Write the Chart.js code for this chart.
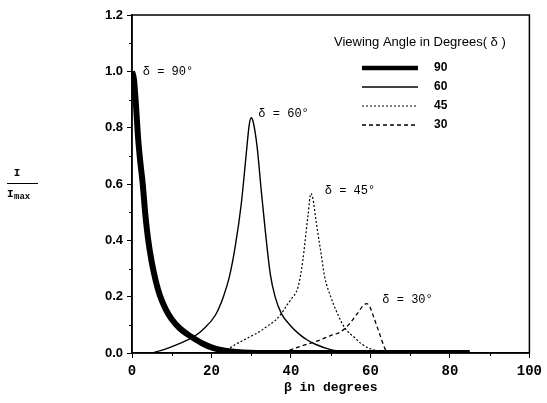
<!DOCTYPE html>
<html>
<head>
<meta charset="utf-8">
<script src="https://cdn.jsdelivr.net/npm/chart.js@4/dist/chart.umd.min.js"></script>
<style>
  html, body { margin: 0; padding: 0; background: #fff; }
  #wrap { width: 547px; height: 403px; }
</style>
</head>
<body>
<div id="wrap"><canvas id="myChart"></canvas></div>
<script>
// intensity curves, [beta, I/Imax]
const angles = ["90", "60", "45", "30"];

const curve90 = [
  [0, 1.0], [0.5, 0.97], [1, 0.88], [1.5, 0.77], [2, 0.69], [2.7, 0.6], [3.3, 0.5],
  [4, 0.41], [5, 0.32], [6, 0.255], [7, 0.205], [8.5, 0.155], [10, 0.12], [12, 0.088],
  [14, 0.066], [16, 0.048], [18, 0.032], [20, 0.02], [22, 0.012], [25, 0.005],
  [28, 0.002], [35, 0], [85, 0]
];

const curve60 = [
  [5, 0], [8, 0.012], [11, 0.028], [14, 0.047], [16, 0.062], [18, 0.085], [21, 0.135],
  [23, 0.2], [24.5, 0.27], [26, 0.38], [27.5, 0.53], [28.7, 0.7], [29.5, 0.81],
  [30, 0.835], [30.5, 0.82], [31.5, 0.73], [32.5, 0.58], [33.5, 0.44], [34.8, 0.28],
  [36, 0.2], [37.6, 0.14], [40, 0.095], [42, 0.068], [44, 0.047], [46, 0.032],
  [50, 0.012], [55, 0.003], [60, 0]
];

const curve45 = [
  [22, 0], [24, 0.012], [26, 0.03], [28, 0.045], [30, 0.06], [32, 0.075], [34, 0.095],
  [36, 0.115], [37.6, 0.14], [39, 0.17], [40, 0.19], [41.8, 0.235], [43, 0.33],
  [43.5, 0.39], [44.3, 0.49], [45, 0.566], [45.5, 0.55], [46.3, 0.47], [47.5, 0.36],
  [48.5, 0.27], [50, 0.2], [51.7, 0.14], [53.5, 0.09], [56, 0.055], [58, 0.03],
  [60, 0.015], [63, 0.004], [66, 0]
];

const curve30 = [
  [38, 0], [40, 0.012], [42, 0.022], [45, 0.035], [48, 0.05], [50, 0.062], [52.5, 0.075],
  [54.5, 0.1], [56.7, 0.14], [58.3, 0.17], [59, 0.175], [59.7, 0.168], [61, 0.12],
  [62.5, 0.06], [63.5, 0.02], [64.2, 0]
];

// "δ = n°" labels next to each peak
const peakLabels = [
  { text: "\u03b4 = 90\u00b0", x: 2.7, y: 1.0 },
  { text: "\u03b4 = 60\u00b0", x: 31.8, y: 0.85 },
  { text: "\u03b4 = 45\u00b0", x: 48.5, y: 0.577 },
  { text: "\u03b4 = 30\u00b0", x: 63, y: 0.188 }
];

const xTicks = [0, 20, 40, 60, 80, 100];
const yTicks = [0, 0.2, 0.4, 0.6, 0.8, 1.0, 1.2];
const xMinor = [10, 30, 50, 70, 90];
const yMinor = [0.1, 0.3, 0.5, 0.7, 0.9, 1.1];

function toPoints(arr) {
  return arr.map(p => ({ x: p[0], y: p[1] }));
}

const styles = [
  { borderWidth: 6, borderDash: [] },
  { borderWidth: 1.4, borderDash: [] },
  { borderWidth: 1.2, borderDash: [2, 2] },
  { borderWidth: 1.3, borderDash: [4, 3] }
];

const curves = [curve90, curve60, curve45, curve30];

const datasets = curves.map((c, i) => ({
  label: angles[i],
  data: toPoints(c),
  borderColor: "#000",
  backgroundColor: "#000",
  borderWidth: styles[i].borderWidth,
  borderDash: styles[i].borderDash,
  pointRadius: 0,
  cubicInterpolationMode: "monotone",
  fill: false
}));

const mono = "'Liberation Mono', 'DejaVu Sans Mono', monospace";
const sans = "'Liberation Sans', Arial, sans-serif";

// frame, minor ticks, peak labels, y axis fraction and the legend box
const extras = {
  id: "extras",
  afterDraw(chart) {
    const ctx = chart.ctx;
    const a = chart.chartArea;
    const xs = chart.scales.x, ys = chart.scales.y;
    ctx.save();
    ctx.strokeStyle = "#000";
    ctx.lineWidth = 1.5;
    ctx.strokeRect(a.left, a.top, a.right - a.left, a.bottom - a.top);

    ctx.lineWidth = 1;
    ctx.beginPath();
    xMinor.forEach(v => {
      const px = Math.round(xs.getPixelForValue(v)) + 0.5;
      ctx.moveTo(px, a.bottom);
      ctx.lineTo(px, a.bottom + 3);
    });
    yMinor.forEach(v => {
      const py = Math.round(ys.getPixelForValue(v)) + 0.5;
      ctx.moveTo(a.left, py);
      ctx.lineTo(a.left - 3, py);
    });
    ctx.stroke();

    ctx.fillStyle = "#000";
    ctx.font = "12px " + mono;
    ctx.textBaseline = "middle";
    ctx.textAlign = "left";
    peakLabels.forEach(l => {
      ctx.fillText(l.text, xs.getPixelForValue(l.x), ys.getPixelForValue(l.y));
    });

    // I / Imax
    ctx.font = "bold 11px " + mono;
    ctx.textAlign = "center";
    ctx.fillText("I", 17, 173);
    ctx.beginPath();
    ctx.moveTo(7, 183.5);
    ctx.lineTo(38, 183.5);
    ctx.lineWidth = 1;
    ctx.stroke();
    ctx.textAlign = "left";
    ctx.fillText("I", 7, 194);
    ctx.font = "bold 9px " + mono;
    ctx.fillText("max", 14, 197);

    // legend
    ctx.font = "13px " + sans;
    ctx.textAlign = "left";
    ctx.fillText("Viewing Angle in Degrees( \u03b4 )", 334, 42);
    ctx.font = "bold 12px " + sans;
    chart.data.datasets.forEach((ds, i) => {
      const y = 68 + i * 19;
      ctx.beginPath();
      ctx.setLineDash(ds.borderDash);
      ctx.lineWidth = i === 0 ? 4.5 : ds.borderWidth;
      ctx.moveTo(362, y);
      ctx.lineTo(418, y);
      ctx.stroke();
      ctx.setLineDash([]);
      ctx.fillText(ds.label, 434, y);
    });
    ctx.restore();
  }
};

new Chart(document.getElementById("myChart"), {
  type: "line",
  data: { datasets: datasets },
  options: {
    responsive: true,
    maintainAspectRatio: false,
    animation: false,
    layout: { padding: { left: 0, right: 13, top: 15, bottom: 0 } },
    plugins: { legend: { display: false }, tooltip: { enabled: false } },
    scales: {
      x: {
        type: "linear",
        min: 0,
        max: 100,
        afterFit(scale) { scale.height = 50; },
        afterBuildTicks(scale) { scale.ticks = xTicks.map(v => ({ value: v })); },
        grid: { drawOnChartArea: false, drawTicks: true, tickLength: 5, color: "#000" },
        border: { display: true, color: "#000", width: 1.5 },
        ticks: { color: "#000", font: { family: mono, size: 14, weight: "bold" }, padding: 5, maxRotation: 0 },
        title: {
          display: true,
          text: "\u03b2 in degrees",
          color: "#000",
          font: { family: mono, size: 13, weight: "bold" },
          padding: { top: 0, bottom: 7 }
        }
      },
      y: {
        type: "linear",
        min: 0,
        max: 1.2,
        afterFit(scale) { scale.width = 132; },
        afterBuildTicks(scale) { scale.ticks = yTicks.map(v => ({ value: v })); },
        grid: { drawOnChartArea: false, drawTicks: true, tickLength: 5, color: "#000" },
        border: { display: true, color: "#000", width: 1.5 },
        ticks: {
          color: "#000",
          font: { family: sans, size: 13, weight: "bold" },
          padding: 4,
          callback: v => Number(v).toFixed(1)
        }
      }
    }
  },
  plugins: [extras]
});
</script>
</body>
</html>
